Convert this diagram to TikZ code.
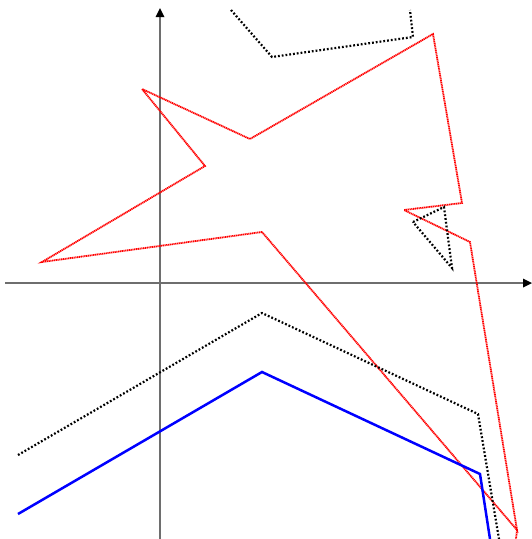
\documentclass[tikz,border=0pt]{standalone}

\tikzset{every picture/.style={line width=0.75pt}}
\tikzset{
  axisline/.style={draw={rgb, 255:red, 110; green, 110; blue, 110 }, line width=1.2pt},
  redpath/.style={draw={rgb, 255:red, 255; green, 0; blue, 0 }, line width=1.8pt, dash pattern={on 1.2pt off 0.6pt}},
  blackpath/.style={draw=black, line width=2.2pt, dash pattern={on 1.8pt off 2pt}},
  bluepath/.style={draw={rgb, 255:red, 0; green, 0; blue, 255 }, line width=2.5pt}
}

\begin{document}
\begin{tikzpicture}[x=1pt,y=1pt,yscale=-1,xscale=1]
	\useasboundingbox (0,0) rectangle (532,539);

	%Straight Lines [id:axisx] 
	\draw [axisline]  (5,283) -- (523,283) ;
	\draw [shift={(532,283)}, rotate = 180] [fill=black][draw opacity=0] (9,-4.5) -- (0,0) -- (9,4.5) -- cycle    ;
	%Straight Lines [id:axisy] 
	\draw [axisline]  (160,539) -- (160,17) ;
	\draw [shift={(160,8)}, rotate = 90] [fill=black][draw opacity=0] (9,-4.5) -- (0,0) -- (9,4.5) -- cycle    ;

	%Shape: Polygon [id:redstar] 
	\draw [redpath]  (262,232) -- (42,262) -- (205,166) -- (142,89) -- (250,139) -- (433,34) -- (462,203) -- (404,210) -- (470,242) -- (517,530) -- cycle ;
	\draw [redpath]  (517,530) -- (516,539) ;

	%Straight Lines [id:blacktop] 
	\draw [blackpath]  (231,10) -- (272,57) -- (413,37) -- (410,10) ;
	%Shape: Triangle [id:blacktri] 
	\draw [blackpath]  (413,222) -- (444,207) -- (452,268) -- cycle ;
	%Straight Lines [id:blacklow] 
	\draw [blackpath]  (18,455) -- (262,313) -- (478,414) -- (499,539) ;

	%Straight Lines [id:bluelow] 
	\draw [bluepath]  (18,514) -- (262,372) -- (480,474) -- (490,539) ;

\end{tikzpicture}
\end{document}
